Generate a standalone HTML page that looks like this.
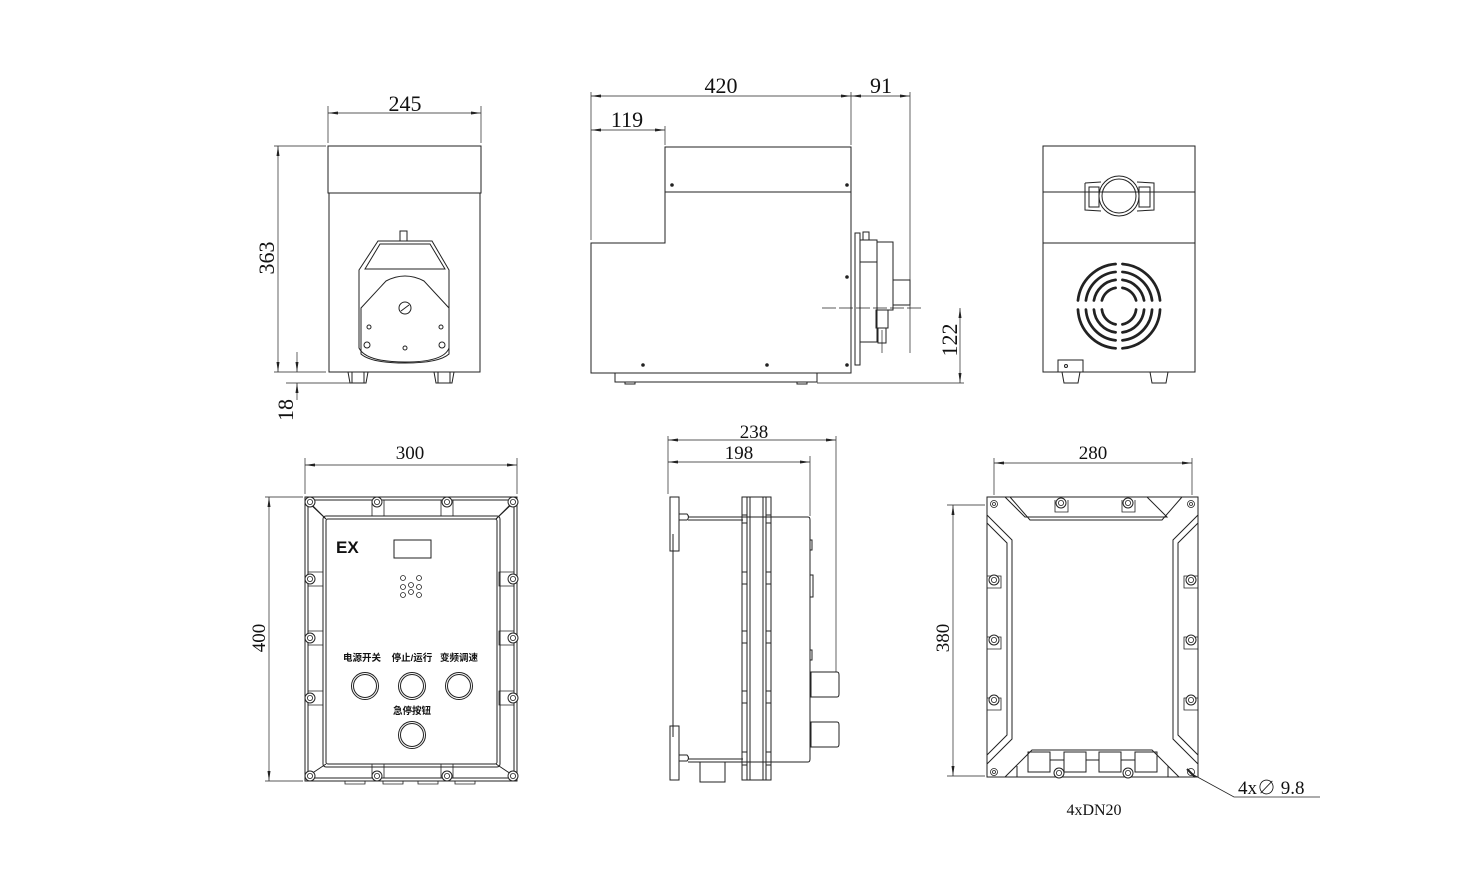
<!DOCTYPE html>
<html><head><meta charset="utf-8"><style>
html,body{margin:0;padding:0;background:#fff;}
svg{display:block}
text{font-family:"Liberation Serif","Noto Serif CJK SC",serif;fill:#111}
.cn{font-family:"Liberation Sans","Noto Sans CJK SC",sans-serif;font-weight:bold;font-size:9.5px}
</style></head><body>
<svg width="1484" height="886" viewBox="0 0 1484 886" xmlns="http://www.w3.org/2000/svg">
<defs>
<marker id="a" markerWidth="10" markerHeight="6" refX="10" refY="3" orient="auto-start-reverse" markerUnits="userSpaceOnUse"><path d="M0,1.5 L10,3 L0,4.5z" fill="#222"/></marker>
<g id="bolt"><circle r="5" fill="#fff" stroke="#222" stroke-width="1"/><circle r="2.6" fill="none" stroke="#222" stroke-width="0.8"/></g>
</defs>
<g fill="none" stroke="#222" stroke-width="1">
<line x1="328" y1="106" x2="328" y2="143" stroke-width="0.7"/>
<line x1="481" y1="106" x2="481" y2="143" stroke-width="0.7"/>
<line x1="328" y1="113" x2="481" y2="113" stroke-width="0.7" marker-start="url(#a)" marker-end="url(#a)"/>
<line x1="274" y1="146" x2="326" y2="146" stroke-width="0.7"/>
<line x1="274" y1="372" x2="326" y2="372" stroke-width="0.7"/>
<line x1="278" y1="146" x2="278" y2="372" stroke-width="0.7" marker-start="url(#a)" marker-end="url(#a)"/>
<line x1="286" y1="383" x2="350" y2="383" stroke-width="0.7"/>
<line x1="297" y1="352" x2="297" y2="372" stroke-width="0.7" marker-end="url(#a)"/>
<line x1="297" y1="383" x2="297" y2="400" stroke-width="0.7" marker-start="url(#a)"/>
<rect x="328" y="146" width="153" height="47"/>
<rect x="329" y="193" width="151" height="179"/>
<path d="M348,372 l2,11 h16 l2,-11 M352,372 v11 M364,372 v11"/>
<path d="M434,372 l2,11 h16 l2,-11 M438,372 v11 M450,372 v11"/>
<rect x="400" y="231" width="7" height="10"/>
<path d="M378,241 h54 l17,29 v78 q-5,14 -44,14 q-39,0 -46,-14 v-78z"/>
<path d="M380,244 h50 l15,25 h-80z"/>
<path d="M361,308 l25,-27 q19,-10 38,0 l25,27 v46 q-10,9 -44,9 q-34,0 -44,-9z"/>
<circle cx="405" cy="308" r="6"/><line x1="401" y1="311" x2="409" y2="305"/>
<circle cx="369" cy="327" r="2"/><circle cx="441" cy="327" r="2"/><circle cx="405" cy="348" r="2"/>
<circle cx="367" cy="345" r="3"/><circle cx="442" cy="345" r="3"/>
<line x1="591" y1="92" x2="591" y2="240" stroke-width="0.7"/>
<line x1="851" y1="92" x2="851" y2="145" stroke-width="0.7"/>
<line x1="910" y1="92" x2="910" y2="353" stroke-width="0.7"/>
<line x1="665" y1="126" x2="665" y2="145" stroke-width="0.7"/>
<line x1="591" y1="96" x2="851" y2="96" stroke-width="0.7" marker-start="url(#a)" marker-end="url(#a)"/>
<line x1="851" y1="96" x2="910" y2="96" stroke-width="0.7" marker-start="url(#a)" marker-end="url(#a)"/>
<line x1="591" y1="130" x2="665" y2="130" stroke-width="0.7" marker-start="url(#a)" marker-end="url(#a)"/>
<path d="M665,147 h186 v226 h-260 v-130 h74z"/>
<line x1="665" y1="192" x2="851" y2="192"/>
<circle cx="672" cy="185" r="1.3" fill="#222"/><circle cx="847" cy="185" r="1.3" fill="#222"/>
<circle cx="847" cy="277" r="1.3" fill="#222"/><circle cx="847" cy="365" r="1.3" fill="#222"/>
<circle cx="643" cy="365" r="1.3" fill="#222"/><circle cx="767" cy="365" r="1.3" fill="#222"/>
<rect x="615" y="373" width="202" height="9"/>
<path d="M625,382 v2 h10 v-2 M797,382 v2 h10 v-2"/>
<rect x="855" y="233" width="5" height="132"/>
<path d="M860,240 h17 v102 h-17 M877,242 h16 v68 h-16 M893,280 h17 v25 h-17"/>
<rect x="863" y="232" width="6" height="8"/>
<path d="M876,310 h12 v18 h-12z M878,328 v15 h8 v-15"/>
<line x1="860" y1="262" x2="877" y2="262"/>
<line x1="822" y1="308" x2="922" y2="308" stroke-width="0.7" stroke-dasharray="14,3"/>
<line x1="817" y1="383" x2="964" y2="383" stroke-width="0.7"/>
<line x1="960" y1="308" x2="960" y2="383" stroke-width="0.7" marker-start="url(#a)" marker-end="url(#a)"/>
<line x1="882" y1="330" x2="882" y2="353" stroke-width="0.7"/>
<rect x="1043" y="146" width="152" height="226"/>
<line x1="1043" y1="192" x2="1195" y2="192"/><line x1="1043" y1="243" x2="1195" y2="243"/>
<path d="M1085,183 l16,-1 M1137,182 l17,1 v27 l-17,1 M1101,211 l-16,-1 v-27"/>
<path d="M1089,187 h10 v20 h-10z M1139,187 h11 v20 h-11z"/>
<circle cx="1119" cy="196" r="20"/><circle cx="1119" cy="196" r="17"/>
<g stroke-width="2.4" stroke-linecap="round" transform="translate(1119,305) scale(1.14) translate(-1119,-305)">
<path d="M1116,269 A36,36 0 0 0 1083,301 M1116,276 A29,29 0 0 0 1090,301 M1116,283 A22,22 0 0 0 1097,301 M1116,290 A15,15 0 0 0 1104,301"/>
<path d="M1122,269 A36,36 0 0 1 1155,301 M1122,276 A29,29 0 0 1 1148,301 M1122,283 A22,22 0 0 1 1141,301 M1122,290 A15,15 0 0 1 1134,301"/>
<path d="M1116,343 A36,36 0 0 1 1083,309 M1116,336 A29,29 0 0 1 1090,309 M1116,329 A22,22 0 0 1 1097,309 M1116,322 A15,15 0 0 1 1104,309"/>
<path d="M1122,343 A36,36 0 0 0 1155,309 M1122,336 A29,29 0 0 0 1148,309 M1122,329 A22,22 0 0 0 1141,309 M1122,322 A15,15 0 0 0 1134,309"/>
</g>
<rect x="1058" y="360" width="25" height="12"/><circle cx="1066" cy="366" r="1.5"/>
<path d="M1062,372 l2,11 h14 l2,-11"/>
<path d="M1150,372 l2,11 h14 l2,-11"/>
<line x1="305" y1="458" x2="305" y2="494" stroke-width="0.7"/>
<line x1="517" y1="458" x2="517" y2="494" stroke-width="0.7"/>
<line x1="305" y1="465" x2="517" y2="465" stroke-width="0.7" marker-start="url(#a)" marker-end="url(#a)"/>
<line x1="265" y1="497" x2="303" y2="497" stroke-width="0.7"/>
<line x1="265" y1="781" x2="303" y2="781" stroke-width="0.7"/>
<line x1="269" y1="497" x2="269" y2="781" stroke-width="0.7" marker-start="url(#a)" marker-end="url(#a)"/>
<rect x="305" y="497" width="212" height="284"/>
<rect x="308" y="500" width="206" height="278"/>
<rect x="323" y="516" width="177" height="251" rx="3"/>
<rect x="326" y="519" width="171" height="245" rx="2"/>
<path d="M308,502 l18,17 M514,502 l-18,17 M308,776 l18,-12 M514,776 l-18,-12"/>
<path d="M312,505 l14,14 M510,505 l-14,14"/>
<g stroke-width="0.8">
<path d="M372,500 v16 h12 v-16 M441,500 v16 h12 v-16 M372,778 v-14 h12 v14 M441,778 v-14 h12 v14"/>
<path d="M308,572 h15 v14 h-15 M308,631 h15 v14 h-15 M308,691 h15 v14 h-15 M514,572 h-15 v14 h15 M514,631 h-15 v14 h15 M514,691 h-15 v14 h15"/>
<path d="M345,781 v3 h20 v-3 M383,781 v3 h20 v-3 M418,781 v3 h20 v-3 M455,781 v3 h20 v-3"/>
</g>
<use href="#bolt" x="310" y="502"/><use href="#bolt" x="377" y="502"/><use href="#bolt" x="447" y="502"/><use href="#bolt" x="513" y="502"/>
<use href="#bolt" x="310" y="579"/><use href="#bolt" x="310" y="638"/><use href="#bolt" x="310" y="698"/>
<use href="#bolt" x="513" y="579"/><use href="#bolt" x="513" y="638"/><use href="#bolt" x="513" y="698"/>
<use href="#bolt" x="310" y="776"/><use href="#bolt" x="377" y="776"/><use href="#bolt" x="447" y="776"/><use href="#bolt" x="513" y="776"/>
<rect x="394" y="540" width="37" height="18"/>
<g stroke-width="0.8"><circle cx="403" cy="578" r="2.5"/><circle cx="419" cy="578" r="2.5"/><circle cx="403" cy="587" r="2.5"/><circle cx="411" cy="585" r="2.5"/><circle cx="419" cy="587" r="2.5"/><circle cx="403" cy="595" r="2.5"/><circle cx="411" cy="592" r="2.5"/><circle cx="419" cy="595" r="2.5"/></g>
<circle cx="365" cy="686" r="13.5"/><circle cx="365" cy="686" r="11.5"/>
<circle cx="412" cy="686" r="13.5"/><circle cx="412" cy="686" r="11.5"/>
<circle cx="459" cy="686" r="13.5"/><circle cx="459" cy="686" r="11.5"/>
<circle cx="412" cy="735" r="13.5"/><circle cx="412" cy="735" r="11.5"/>
<line x1="668" y1="436" x2="668" y2="494" stroke-width="0.7"/>
<line x1="836" y1="436" x2="836" y2="672" stroke-width="0.7"/>
<line x1="810" y1="456" x2="810" y2="516" stroke-width="0.7"/>
<line x1="668" y1="440" x2="836" y2="440" stroke-width="0.7" marker-start="url(#a)" marker-end="url(#a)"/>
<line x1="668" y1="462" x2="810" y2="462" stroke-width="0.7" marker-start="url(#a)" marker-end="url(#a)"/>
<path d="M670,497 h9 v54 h-9z M670,726 h9 v54 h-9z"/>
<path d="M679,514 h8 q3,3 0,6 h-8 M679,755 h8 q3,3 0,6 h-8"/>
<path d="M673,534 v203"/>
<path d="M688,517 h120 q2,0 2,3 v239 q0,3 -2,3 h-120 M688,520 h55 M688,759 h55"/>
<rect x="742" y="497" width="29" height="283"/>
<path d="M747,497 v283 M750,497 v283 M763,497 v283 M766,497 v283"/>
<path d="M742,572 h5 v12 h-5 M742,631 h5 v12 h-5 M742,691 h5 v12 h-5 M766,572 h5 v12 h-5 M766,631 h5 v12 h-5 M766,691 h5 v12 h-5"/>
<path d="M742,515 h5 M742,523 h5 M766,515 h5 M766,523 h5 M742,752 h5 M742,765 h5 M766,752 h5 M766,765 h5"/>
<path d="M810,540 h2 v10 h-2 M810,575 h3 v22 h-3 M810,650 h2 v10 h-2"/>
<path d="M811,672 h26 q2,0 2,3 v19 q0,3 -2,3 h-26z M811,722 h26 q2,0 2,3 v19 q0,3 -2,3 h-26z"/>
<path d="M700,762 v20 h25 v-20"/>
<line x1="994" y1="458" x2="994" y2="495" stroke-width="0.7"/>
<line x1="1192" y1="458" x2="1192" y2="495" stroke-width="0.7"/>
<line x1="994" y1="463" x2="1192" y2="463" stroke-width="0.7" marker-start="url(#a)" marker-end="url(#a)"/>
<line x1="947" y1="505" x2="985" y2="505" stroke-width="0.7"/>
<line x1="947" y1="776" x2="985" y2="776" stroke-width="0.7"/>
<line x1="953" y1="505" x2="953" y2="776" stroke-width="0.7" marker-start="url(#a)" marker-end="url(#a)"/>
<rect x="987" y="497" width="211" height="280"/>
<path d="M1005,497 l20,20 h142 l-20,-20 M1010,497 l20,23 h132 l20,-23"/>
<path d="M987,515 l25,25 v199 l-25,25 M987,523 l20,20 v192 l-20,20 M1198,515 l-25,25 v199 l25,25 M1198,523 l-20,20 v192 l20,20"/>
<path d="M1005,777 l27,-27 h120 l27,27"/>
<path d="M1017,766 v11 M1168,766 v11"/>
<rect x="1028" y="752" width="22" height="20"/><rect x="1064" y="752" width="22" height="20"/><rect x="1099" y="752" width="22" height="20"/><rect x="1135" y="752" width="22" height="20"/>
<path d="M1050,760 h14 M1121,760 h14 M1086,760 h13"/>
<g stroke-width="0.8"><circle cx="994" cy="504" r="3.5"/><circle cx="994" cy="504" r="1.5"/><circle cx="1191" cy="504" r="3.5"/><circle cx="1191" cy="504" r="1.5"/><circle cx="994" cy="772" r="3.5"/><circle cx="994" cy="772" r="1.5"/><circle cx="1191" cy="772" r="3.5"/></g>
<path d="M1055,500 v12 h13 v-12 M1122,500 v12 h13 v-12 M987,576 h14 v12 h-14 M987,637 h14 v12 h-14 M987,698 h14 v12 h-14 M1198,576 h-14 v12 h14 M1198,637 h-14 v12 h14 M1198,698 h-14 v12 h14" stroke-width="0.8"/>
<use href="#bolt" x="1061" y="503"/><use href="#bolt" x="1128" y="503"/>
<use href="#bolt" x="994" y="580"/><use href="#bolt" x="994" y="640"/><use href="#bolt" x="994" y="700"/>
<use href="#bolt" x="1191" y="580"/><use href="#bolt" x="1191" y="640"/><use href="#bolt" x="1191" y="700"/>
<use href="#bolt" x="1059" y="773"/><use href="#bolt" x="1128" y="773"/>
<path d="M1187,769 l8,8" stroke-width="2"/>
<path d="M1192,774 L1234,797 H1320" stroke-width="0.8"/>
</g>
<g font-size="22">
<text x="405" y="111" text-anchor="middle">245</text>
<text x="721" y="93" text-anchor="middle">420</text>
<text x="881" y="93" text-anchor="middle">91</text>
<text x="627" y="127" text-anchor="middle">119</text>
<text transform="translate(274,258) rotate(-90)" text-anchor="middle">363</text>
<text transform="translate(293,410) rotate(-90)" text-anchor="middle">18</text>
<text transform="translate(957,340) rotate(-90)" text-anchor="middle">122</text>
</g>
<g font-size="19">
<text x="410" y="459" text-anchor="middle">300</text>
<text x="754" y="438" text-anchor="middle">238</text>
<text x="739" y="459" text-anchor="middle">198</text>
<text x="1093" y="459" text-anchor="middle">280</text>
<text transform="translate(265,638) rotate(-90)" text-anchor="middle">400</text>
<text transform="translate(949,638) rotate(-90)" text-anchor="middle">380</text>
<text x="1238" y="794">4x∅ 9.8</text>
<text x="1094" y="815" text-anchor="middle" font-size="16">4xDN20</text>
</g>
<text x="336" y="553" font-size="17" font-weight="bold" fill="#333" style="font-family:'Liberation Sans',sans-serif">EX</text>
<text class="cn" x="362" y="661" text-anchor="middle">电源开关</text>
<text class="cn" x="412" y="661" text-anchor="middle">停止/运行</text>
<text class="cn" x="459" y="661" text-anchor="middle">变频调速</text>
<text class="cn" x="412" y="714" text-anchor="middle">急停按钮</text>
</svg>
</body></html>
